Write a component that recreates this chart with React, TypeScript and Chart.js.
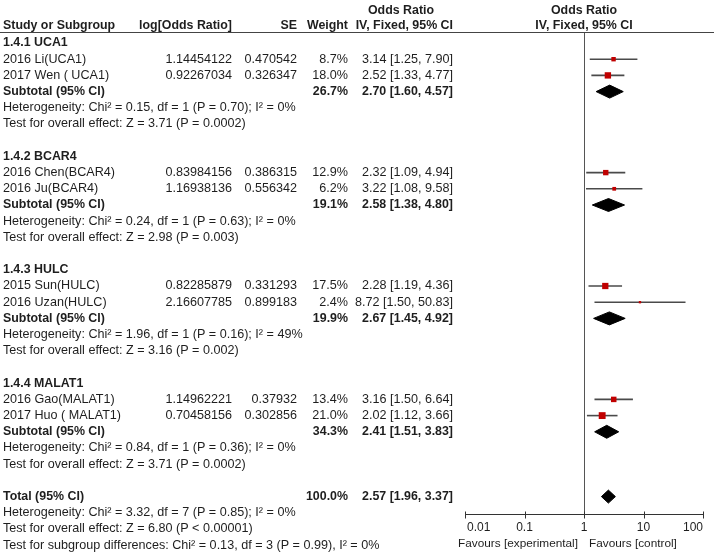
import React, { useEffect, useRef } from "react";
import { Chart, registerables } from "chart.js";
Chart.register(...registerables);

// ---------- data ----------
const groupNames = ["1.4.1 UCA1", "1.4.2 BCAR4", "1.4.3 HULC", "1.4.4 MALAT1"];
const studyNames = [
  "2016 Li(UCA1)",
  "2017 Wen ( UCA1)",
  "2016 Chen(BCAR4)",
  "2016 Ju(BCAR4)",
  "2015 Sun(HULC)",
  "2016 Uzan(HULC)",
  "2016 Gao(MALAT1)",
  "2017 Huo ( MALAT1)",
];
const studyGroup = [0, 0, 1, 1, 2, 2, 3, 3];
const logOddsText = ["1.14454122", "0.92267034", "0.83984156", "1.16938136", "0.82285879", "2.16607785", "1.14962221", "0.70458156"];
const seText = ["0.470542", "0.326347", "0.386315", "0.556342", "0.331293", "0.899183", "0.37932", "0.302856"];
const studyWeight = [8.7, 18.0, 12.9, 6.2, 17.5, 2.4, 13.4, 21.0];
const studyOR = [3.14, 2.52, 2.32, 3.22, 2.28, 8.72, 3.16, 2.02];
const studyLo = [1.25, 1.33, 1.09, 1.08, 1.19, 1.5, 1.5, 1.12];
const studyHi = [7.9, 4.77, 4.94, 9.58, 4.36, 50.83, 6.64, 3.66];

const subWeight = [26.7, 19.1, 19.9, 34.3];
const subOR = [2.7, 2.58, 2.67, 2.41];
const subLo = [1.6, 1.38, 1.45, 1.51];
const subHi = [4.57, 4.8, 4.92, 3.83];
const subHeterogeneity = [
  "Heterogeneity: Chi\u00b2 = 0.15, df = 1 (P = 0.70); I\u00b2 = 0%",
  "Heterogeneity: Chi\u00b2 = 0.24, df = 1 (P = 0.63); I\u00b2 = 0%",
  "Heterogeneity: Chi\u00b2 = 1.96, df = 1 (P = 0.16); I\u00b2 = 49%",
  "Heterogeneity: Chi\u00b2 = 0.84, df = 1 (P = 0.36); I\u00b2 = 0%",
];
const subOverall = [
  "Test for overall effect: Z = 3.71 (P = 0.0002)",
  "Test for overall effect: Z = 2.98 (P = 0.003)",
  "Test for overall effect: Z = 3.16 (P = 0.002)",
  "Test for overall effect: Z = 3.71 (P = 0.0002)",
];

const totalWeight = 100.0;
const totalOR = 2.57;
const totalLo = 1.96;
const totalHi = 3.37;
const totalHeterogeneity = "Heterogeneity: Chi\u00b2 = 3.32, df = 7 (P = 0.85); I\u00b2 = 0%";
const totalOverall = "Test for overall effect: Z = 6.80 (P < 0.00001)";
const subgroupDiff = "Test for subgroup differences: Chi\u00b2 = 0.13, df = 3 (P = 0.99), I\u00b2 = 0%";

const xTicks = [0.01, 0.1, 1, 10, 100];
const xTickLabels = ["0.01", "0.1", "1", "10", "100"];
const favoursLeft = "Favours [experimental]";
const favoursRight = "Favours [control]";

// ---------- layout helpers ----------
const FONT = '"Liberation Sans", Arial, Helvetica, sans-serif';
const FS = 12.6;
const FSB = 12.4;
const TEXT = "#1e1e1e";
const GROUP_STRIDE = 7;
const groupRow = (g: number) => g * GROUP_STRIDE;
const studyRow = studyNames.map((_, i) => {
  const g = studyGroup[i];
  const idx = studyGroup.slice(0, i).filter((x) => x === g).length;
  return groupRow(g) + 1 + idx;
});
const subRow = (g: number) => groupRow(g) + 3;
const totalRow = groupNames.length * GROUP_STRIDE;

const fmtW = (w: number) => w.toFixed(1) + "%";
const fmtCI = (o: number, l: number, h: number) => `${o.toFixed(2)} [${l.toFixed(2)}, ${h.toFixed(2)}]`;

export default function App() {
  const ref = useRef<HTMLCanvasElement | null>(null);

  useEffect(() => {
    if (!ref.current) return;
    const DH = 0.4; // diamond half height in rows

    const datasets: any[] = [];
    // squares
    datasets.push({
      type: "scatter",
      data: studyOR.map((o, i) => ({ x: o, y: studyRow[i] })),
      pointStyle: "rect",
      pointRadius: studyWeight.map((w) => (1.5 * Math.sqrt(w)) / Math.SQRT2),
      backgroundColor: "#c00000",
      borderColor: "#c00000",
      borderWidth: 0,
      order: 0,
    });
    // CI lines
    studyOR.forEach((_, i) => {
      datasets.push({
        type: "line",
        data: [
          { x: studyLo[i], y: studyRow[i] },
          { x: studyHi[i], y: studyRow[i] },
        ],
        borderColor: "#4a4a4a",
        borderWidth: 1.6,
        pointRadius: 0,
        fill: false,
        order: 1,
      });
    });
    // diamonds
    const diamond = (o: number, l: number, h: number, r: number) => ({
      type: "line",
      data: [
        { x: l, y: r },
        { x: o, y: r - DH },
        { x: h, y: r },
        { x: o, y: r + DH },
        { x: l, y: r },
      ],
      borderColor: "#000",
      backgroundColor: "#000",
      borderWidth: 1,
      pointRadius: 0,
      fill: "shape",
      tension: 0,
      order: 0,
    });
    subOR.forEach((o, g) => datasets.push(diamond(o, subLo[g], subHi[g], subRow(g))));
    datasets.push(diamond(totalOR, totalLo, totalHi, totalRow));

    const textPlugin = {
      id: "forestText",
      beforeDatasetsDraw(chart: any) {
        const { ctx, chartArea, scales } = chart;
        const x1 = scales.x.getPixelForValue(1);
        ctx.save();
        ctx.strokeStyle = "#555";
        ctx.lineWidth = 1;
        ctx.beginPath();
        ctx.moveTo(Math.round(x1) + 0.5, chartArea.top);
        ctx.lineTo(Math.round(x1) + 0.5, chartArea.bottom);
        ctx.stroke();
        ctx.restore();
      },
      afterDraw(chart: any) {
        const { ctx, chartArea, scales } = chart;
        const ys = scales.y;
        const xs = scales.x;
        const Y = (r: number) => ys.getPixelForValue(r);
        ctx.save();
        ctx.textBaseline = "middle";
        const t = (s: string, x: number, r: number, align: CanvasTextAlign, bold = false) => {
          ctx.font = bold ? `bold ${FSB}px ${FONT}` : `${FS}px ${FONT}`;
          ctx.fillStyle = TEXT;
          ctx.textAlign = align;
          ctx.fillText(s, x, Y(r));
        };
        const C0 = 3, C1 = 232, C2 = 297, C3 = 348, C4 = 453;
        const xMid = xs.getPixelForValue(1);
        // header
        t("Study or Subgroup", C0, -1.05, "left", true);
        t("log[Odds Ratio]", C1, -1.05, "right", true);
        t("SE", C2, -1.05, "right", true);
        t("Weight", C3, -1.05, "right", true);
        t("Odds Ratio", 401, -2.0, "center", true);
        t("IV, Fixed, 95% CI", C4, -1.05, "right", true);
        t("Odds Ratio", xMid, -2.0, "center", true);
        t("IV, Fixed, 95% CI", xMid, -1.05, "center", true);
        ctx.strokeStyle = "#444";
        ctx.lineWidth = 1;
        ctx.beginPath();
        ctx.moveTo(0, chartArea.top + 0.5);
        ctx.lineTo(chart.width, chartArea.top + 0.5);
        ctx.stroke();

        groupNames.forEach((gName, g) => {
          t(gName, C0, groupRow(g), "left", true);
          t("Subtotal (95% CI)", C0, subRow(g), "left", true);
          t(fmtW(subWeight[g]), C3, subRow(g), "right", true);
          t(fmtCI(subOR[g], subLo[g], subHi[g]), C4, subRow(g), "right", true);
          t(subHeterogeneity[g], C0, subRow(g) + 1, "left");
          t(subOverall[g], C0, subRow(g) + 2, "left");
        });
        studyNames.forEach((s, i) => {
          const r = studyRow[i];
          t(s, C0, r, "left");
          t(logOddsText[i], C1, r, "right");
          t(seText[i], C2, r, "right");
          t(fmtW(studyWeight[i]), C3, r, "right");
          t(fmtCI(studyOR[i], studyLo[i], studyHi[i]), C4, r, "right");
        });
        t("Total (95% CI)", C0, totalRow, "left", true);
        t(fmtW(totalWeight), C3, totalRow, "right", true);
        t(fmtCI(totalOR, totalLo, totalHi), C4, totalRow, "right", true);
        t(totalHeterogeneity, C0, totalRow + 1, "left");
        t(totalOverall, C0, totalRow + 2, "left");
        t(subgroupDiff, C0, totalRow + 3, "left");

        // x axis
        const ay = Math.round(chartArea.bottom) + 0.5;
        ctx.strokeStyle = "#333";
        ctx.lineWidth = 1;
        ctx.beginPath();
        ctx.moveTo(xs.getPixelForValue(xTicks[0]), ay);
        ctx.lineTo(xs.getPixelForValue(xTicks[xTicks.length - 1]), ay);
        xTicks.forEach((v) => {
          const px = Math.round(xs.getPixelForValue(v)) + 0.5;
          ctx.moveTo(px, ay - 3);
          ctx.lineTo(px, ay + 4);
        });
        ctx.stroke();
        ctx.font = `12px ${FONT}`;
        ctx.fillStyle = TEXT;
        xTicks.forEach((v, i) => {
          ctx.textAlign = i === 0 ? "left" : i === xTicks.length - 1 ? "right" : "center";
          const dx = i === 0 ? 2 : 0;
          ctx.fillText(xTickLabels[i], xs.getPixelForValue(v) + dx, ay + 13);
        });
        ctx.textAlign = "right";
        ctx.font = `11.8px ${FONT}`;
        ctx.fillText(favoursLeft, xMid - 6, ay + 29);
        ctx.textAlign = "left";
        ctx.fillText(favoursRight, xMid + 5, ay + 29);
        ctx.restore();
      },
    };

    const chart = new Chart(ref.current, {
      type: "scatter",
      data: { datasets },
      options: {
        animation: false,
        responsive: false,
        devicePixelRatio: 1,
        layout: { padding: { left: 465, right: 11, top: 32, bottom: 42 } },
        plugins: { legend: { display: false }, tooltip: { enabled: false }, title: { display: false } },
        scales: {
          x: { type: "logarithmic", min: xTicks[0], max: xTicks[xTicks.length - 1], display: false },
          y: { type: "linear", reverse: true, min: -0.679, max: 29.074, display: false },
        },
      },
      plugins: [textPlugin],
    } as any);
    return () => chart.destroy();
  }, []);

  return (
    <div style={{ position: "absolute", left: 0, top: 0, width: 714, height: 556, background: "#fff" }}>
      <canvas ref={ref} width={714} height={556} style={{ display: "block" }} />
    </div>
  );
}
